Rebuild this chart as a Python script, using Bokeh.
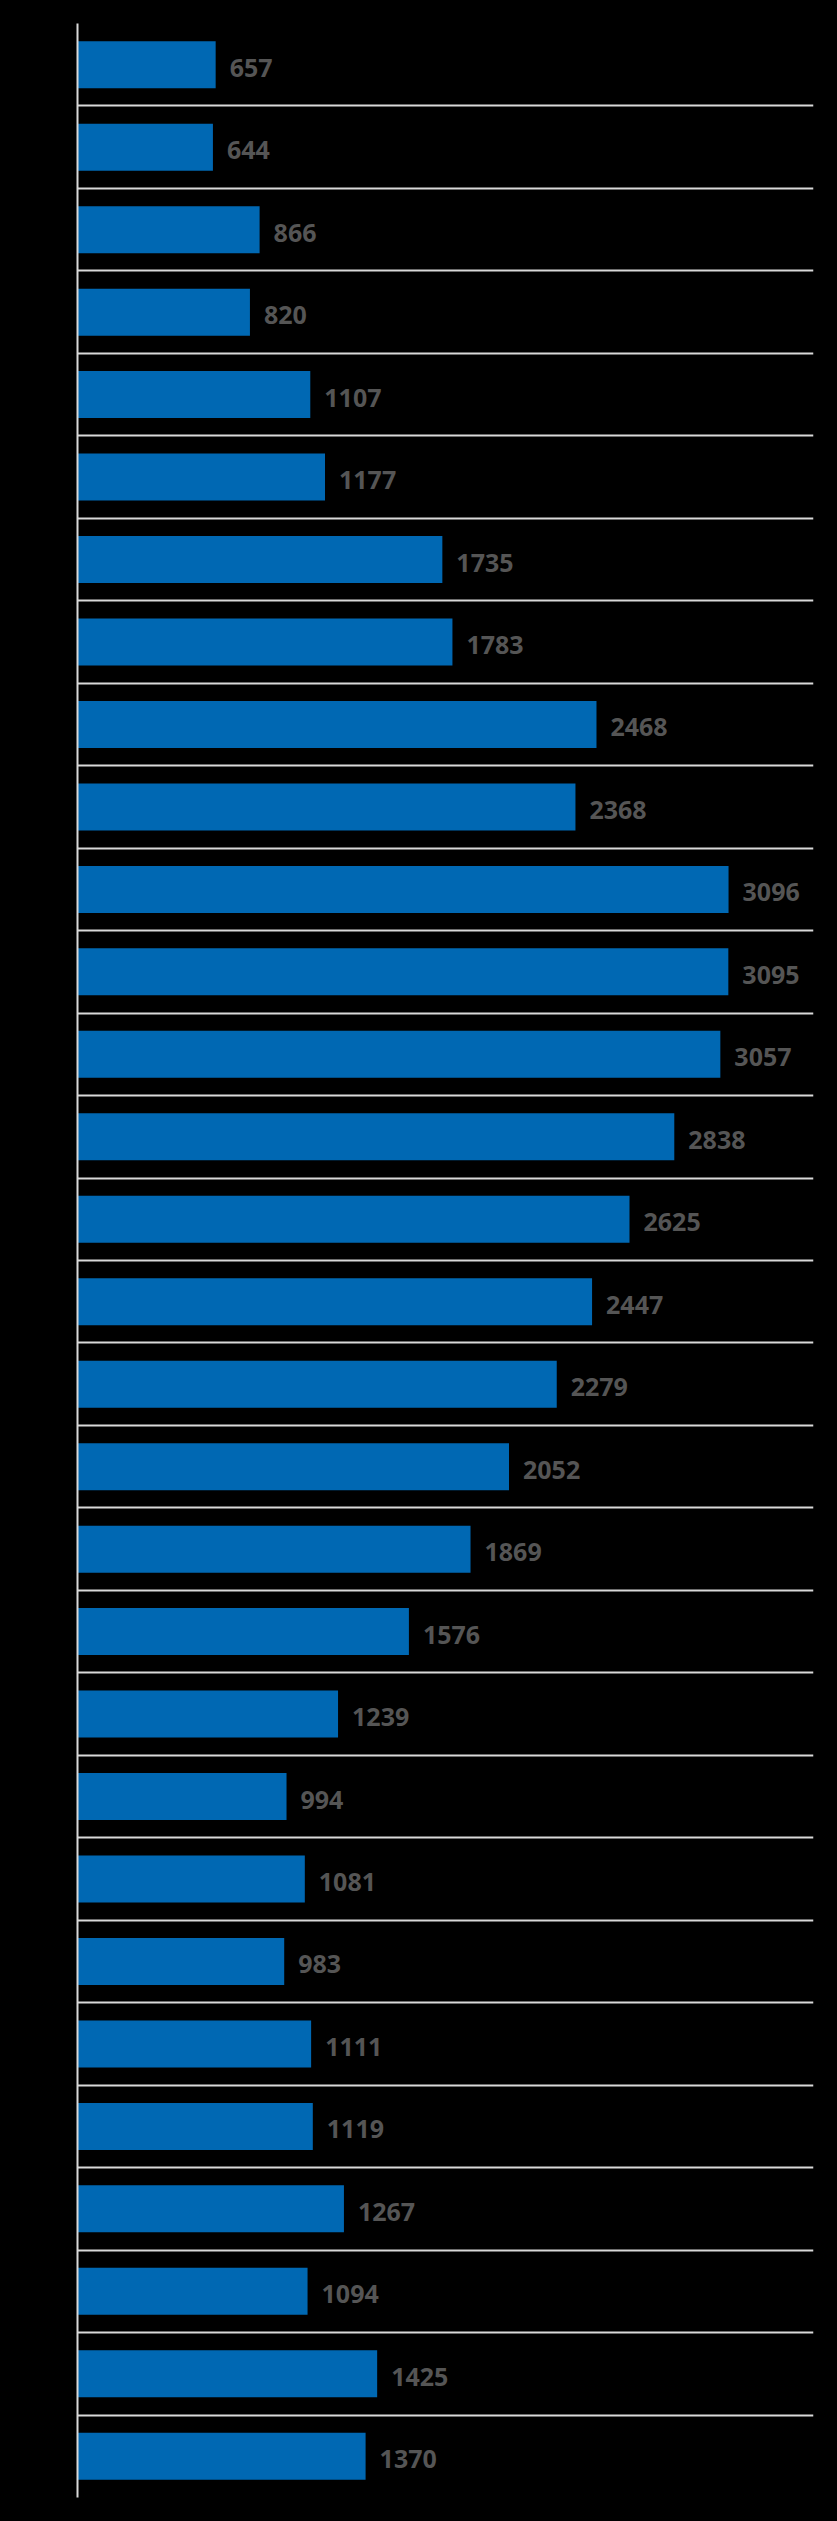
from bokeh.plotting import figure
from bokeh.models import ColumnDataSource, Range1d, FixedTicker
from bokeh.core.properties import value
from bokeh.embed import file_html
from bokeh.resources import INLINE

categories = [str(i) for i in range(1, 31)]
values = [657, 644, 866, 820, 1107, 1177, 1735, 1783, 2468, 2368,
          3096, 3095, 3057, 2838, 2625, 2447, 2279, 2052, 1869, 1576,
          1239, 994, 1081, 983, 1111, 1119, 1267, 1094, 1425, 1370]

n = len(categories)
src = ColumnDataSource(dict(
    cat=categories,
    y=[i + 0.5 for i in range(n)],
    value=values,
    label=[str(v) for v in values],
))

p = figure(width=837, height=2521, output_backend="svg", toolbar_location=None,
           x_range=Range1d(0, 3500), y_range=Range1d(n, 0),
           min_border_left=77, min_border_right=24, min_border_top=23, min_border_bottom=24)
p.background_fill_color = None
p.border_fill_color = "#000000"
p.outline_line_color = None

p.hbar(y="y", left=0, right="value", height=0.57, source=src,
       fill_color="#0068b3", line_color=None)
p.text(x="value", y="y", text="label", source=src, x_offset=14, y_offset=3,
       text_baseline="middle", text_align="left",
       text_font=value("Open Sans"), text_font_style="bold",
       text_font_size="25px", text_color="#555555")

p.xaxis.visible = False
p.xgrid.visible = False
p.ygrid.ticker = FixedTicker(ticks=list(range(n + 1)))
p.ygrid.grid_line_color = "#d9d9d9"
p.ygrid.grid_line_width = 2

p.yaxis.ticker = FixedTicker(ticks=[])
p.yaxis.axis_line_color = "#d9d9d9"
p.yaxis.axis_line_width = 2
p.yaxis.major_tick_line_color = None
p.yaxis.minor_tick_line_color = None
p.yaxis.major_label_text_color = "#000000"

html = file_html(p, INLINE)
html = html.replace("<head>", "<head><style>html, body { background: #000000; }</style>", 1)
open("out.html", "w").write(html)
